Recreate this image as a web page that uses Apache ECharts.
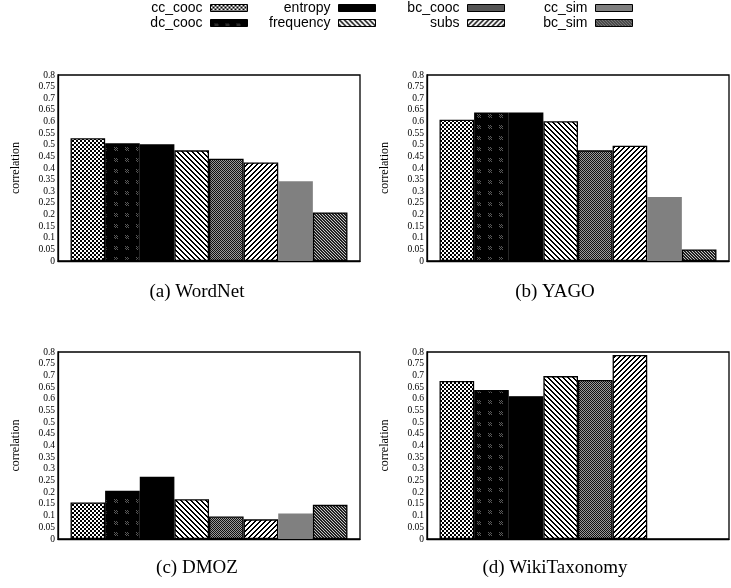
<!DOCTYPE html>
<html>
<head>
<meta charset="utf-8">
<script src="https://cdn.jsdelivr.net/npm/echarts@6/dist/echarts.min.js"></script>
<style>
  html, body { margin: 0; padding: 0; background: #fff; }
  #chart { width: 731px; height: 588px; }
</style>
</head>
<body>
<div id="chart"></div>
<script>
// datasets (one panel each)
const datasets = ['WordNet', 'YAGO', 'DMOZ', 'WikiTaxonomy']
const panelTitles = ['(a) WordNet', '(b) YAGO', '(c) DMOZ', '(d) WikiTaxonomy']

// correlation per measure, in dataset order
const cc_cooc = [0.528, 0.608, 0.156, 0.676]
const dc_cooc = [0.506, 0.639, 0.206, 0.637]
const entropy = [0.502, 0.639, 0.266, 0.611]
const frequency = [0.476, 0.601, 0.170, 0.697]
const bc_cooc = [0.440, 0.476, 0.096, 0.680]
const subs = [0.424, 0.496, 0.084, 0.787]
const cc_sim = [0.343, 0.275, 0.109, null]
const bc_sim = [0.209, 0.050, 0.146, null]

const measureNames = ['cc_cooc', 'dc_cooc', 'entropy', 'frequency', 'bc_cooc', 'subs', 'cc_sim', 'bc_sim']
const measureValues = [cc_cooc, dc_cooc, entropy, frequency, bc_cooc, subs, cc_sim, bc_sim]

// y axis
const yMin = 0
const yMax = 0.8
const yStep = 0.05

// small pixel tiles used as fill patterns
function tile (w, h, pick) {
  const c = document.createElement('canvas')
  c.width = w
  c.height = h
  const ctx = c.getContext('2d')
  for (let x = 0; x < w; x++) {
    for (let y = 0; y < h; y++) {
      ctx.fillStyle = pick(x, y)
      ctx.fillRect(x, y, 1, 1)
    }
  }
  return { image: c, repeat: 'repeat' }
}

const fills = {
  cc_cooc: tile(4, 4, (x, y) => ((x >> 1) + (y >> 1)) % 2 === 0 ? '#000' : '#fff'),
  dc_cooc: tile(11, 11, (x, y) => (x >= 4 && x <= 7 && y >= 4 && y <= 7 && (x + y) % 2 === 0) ? '#5a5a5a' : '#000'),
  entropy: '#000',
  frequency: tile(5, 5, (x, y) => ((x - y + 10) % 5) < 2 ? '#000' : '#fff'),
  bc_cooc: tile(2, 2, (x, y) => (x + y) % 2 === 0 ? '#111' : '#9a9a9a'),
  subs: tile(5, 5, (x, y) => ((x + y) % 5) < 2 ? '#000' : '#fff'),
  cc_sim: '#808080',
  bc_sim: tile(3, 3, (x, y) => ((x - y + 6) % 3) === 0 ? '#c8c8c8' : '#222')
}

const grids = [
  { left: 58, top: 75, width: 302, height: 186 },
  { left: 427, top: 75, width: 302, height: 186 },
  { left: 58, top: 352, width: 302, height: 187 },
  { left: 427, top: 352, width: 302, height: 187 }
]

const titlePos = [[197, 292], [555, 292], [197, 568], [555, 568]]

// legend columns: top row then bottom row, swatch right edge
const legendCols = [248, 376, 505, 633]

const chart = echarts.init(document.getElementById('chart'))

const series = []
grids.forEach((g, gi) => {
  measureNames.forEach((name, mi) => {
    series.push({
      type: 'bar',
      name: name,
      xAxisIndex: gi,
      yAxisIndex: gi,
      data: [measureValues[mi][gi]],
      barGap: '0%',
      barCategoryGap: '8.3%',
      itemStyle: {
        color: fills[name],
        borderColor: '#000',
        borderWidth: name === 'cc_sim' ? 0 : 1.3
      }
    })
  })
})

const legends = measureNames.map((name, i) => ({
  data: [name],
  icon: 'rect',
  align: 'right',
  orient: 'horizontal',
  right: 731 - legendCols[Math.floor(i / 2)],
  top: i % 2 === 0 ? 1 : 16,
  padding: 0,
  itemWidth: 37,
  itemHeight: 7,
  selectedMode: false,
  itemStyle: { borderWidth: 1 },
  textStyle: {
    fontFamily: 'Liberation Sans',
    fontSize: 14,
    color: '#000',
    padding: [0, 3, 0, 0]
  }
}))

chart.setOption({
  animation: false,
  backgroundColor: '#fff',
  legend: legends,
  grid: grids.map(g => Object.assign({
    show: true,
    borderColor: '#000',
    borderWidth: 1.3,
    containLabel: false
  }, g)),
  xAxis: grids.map((g, gi) => ({
    type: 'category',
    gridIndex: gi,
    data: [datasets[gi]],
    axisLine: { lineStyle: { color: '#000', width: 1.3 } },
    axisTick: { show: false },
    axisLabel: { show: false }
  })),
  yAxis: grids.map((g, gi) => ({
    type: 'value',
    gridIndex: gi,
    min: yMin,
    max: yMax,
    interval: yStep,
    name: 'correlation',
    nameLocation: 'middle',
    nameGap: 36,
    nameTextStyle: { fontFamily: 'Liberation Serif', fontSize: 12, color: '#000' },
    axisLine: { show: true, lineStyle: { color: '#000', width: 1.3 } },
    axisTick: { show: false },
    splitLine: { show: false },
    axisLabel: {
      margin: 3,
      showMinLabel: true,
      showMaxLabel: true,
      hideOverlap: false,
      fontFamily: 'Liberation Serif',
      fontSize: 9.5,
      lineHeight: 10,
      color: '#000',
      formatter: v => String(Math.round(v * 100) / 100)
    }
  })),
  graphic: panelTitles.map((t, i) => ({
    type: 'text',
    x: titlePos[i][0],
    y: titlePos[i][1],
    style: {
      text: t,
      fontFamily: 'Liberation Serif',
      fontSize: 19,
      fill: '#000',
      align: 'center',
      verticalAlign: 'middle'
    }
  })),
  series: series
})
</script>
</body>
</html>
